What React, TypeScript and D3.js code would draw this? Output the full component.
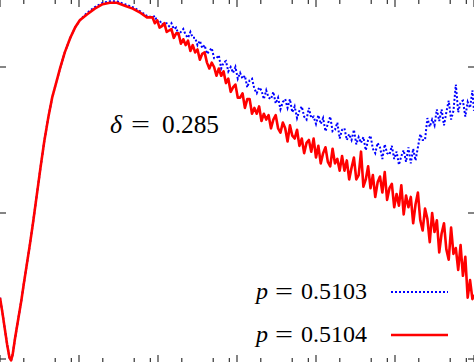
import React from "react";
import * as d3 from "d3";

const W = 474;
const H = 362;

// log10 of the x quantity (shared sampling for both series)
const LOG_T = [
  0, 0.03, 0.06, 0.09, 0.12, 0.14, 0.16, 0.19, 0.23, 0.27,
  0.30, 0.34, 0.38, 0.42, 0.46, 0.51, 0.56, 0.61, 0.66, 0.71,
  0.76, 0.82, 0.89, 0.95, 1.01, 1.10, 1.20, 1.30, 1.39, 1.48,
  1.58, 1.68, 1.78, 1.86,
  1.93, 1.96, 1.99, 2.02, 2.05, 2.08, 2.11, 2.14, 2.17, 2.20,
  2.23, 2.26, 2.29, 2.32, 2.35, 2.38, 2.41, 2.44, 2.47, 2.50,
  2.53, 2.56, 2.59, 2.62, 2.65, 2.68, 2.71, 2.74, 2.77, 2.80,
  2.83, 2.86, 2.89, 2.92, 2.95, 2.98, 3.01, 3.04, 3.07, 3.10,
  3.13, 3.16, 3.19, 3.22, 3.25, 3.28, 3.31, 3.34, 3.37, 3.40,
  3.43, 3.46, 3.49, 3.52, 3.55, 3.58, 3.61, 3.64, 3.67, 3.70,
  3.73, 3.76, 3.79, 3.82, 3.85, 3.88, 3.91, 3.94, 3.97, 4.00,
  4.03, 4.06, 4.09, 4.12, 4.15, 4.18, 4.21, 4.24, 4.27, 4.30,
  4.33, 4.36, 4.39, 4.42, 4.45, 4.48, 4.51, 4.54, 4.57, 4.60,
  4.63, 4.66, 4.69, 4.72, 4.75, 4.78, 4.81, 4.84, 4.87, 4.90,
  4.93, 4.96, 4.99, 5.02, 5.05, 5.08, 5.11, 5.14, 5.17, 5.20,
  5.23, 5.26, 5.29, 5.32, 5.35, 5.38, 5.41, 5.44, 5.47, 5.50,
  5.53, 5.56, 5.59, 5.62, 5.65, 5.68, 5.71, 5.74, 5.77, 5.80,
  5.83, 5.86, 5.89, 5.92, 5.95, 5.98, 6.00,
];

// p = 0.5104 (red, solid)
const RED = [
  0.42, 0.32, 0.21, 0.10, 0.01, -0.01, 0.03, 0.14, 0.27, 0.40,
  0.51, 0.65, 0.79, 0.94, 1.10, 1.30, 1.49, 1.65, 1.79, 1.89,
  1.99, 2.10, 2.20, 2.27, 2.32, 2.36, 2.40, 2.43, 2.44, 2.44,
  2.42, 2.40, 2.37, 2.34,
  2.34, 2.30, 2.32, 2.27, 2.28, 2.30, 2.24, 2.25, 2.26, 2.20,
  2.23, 2.23, 2.16, 2.19, 2.15, 2.18, 2.11, 2.15, 2.10, 2.12,
  2.05, 2.09, 2.10, 2.03, 1.99, 2.03, 2.00, 1.94, 1.99, 1.94,
  1.97, 1.89, 1.92, 1.83, 1.86, 1.88, 1.79, 1.79, 1.82, 1.72,
  1.78, 1.78, 1.68, 1.72, 1.68, 1.73, 1.63, 1.68, 1.64, 1.67,
  1.58, 1.64, 1.67, 1.58, 1.55, 1.62, 1.58, 1.49, 1.60, 1.53,
  1.51, 1.57, 1.46, 1.51, 1.41, 1.48, 1.50, 1.42, 1.51, 1.38,
  1.46, 1.34, 1.41, 1.45, 1.35, 1.32, 1.44, 1.34, 1.37, 1.29,
  1.39, 1.29, 1.36, 1.23, 1.31, 1.38, 1.23, 1.26, 1.42, 1.18,
  1.23, 1.32, 1.17, 1.26, 1.11, 1.21, 1.25, 1.14, 1.28, 1.09,
  1.17, 1.20, 1.04, 1.13, 1.05, 1.19, 0.99, 1.12, 1.04, 1.11,
  0.93, 1.06, 1.14, 0.95, 0.88, 1.03, 0.96, 0.80, 1.00, 0.87,
  0.95, 0.73, 0.86, 0.93, 0.75, 0.68, 0.90, 0.72, 0.76, 0.61,
  0.78, 0.57, 0.70, 0.42, 0.54, 0.41, 0.44,
];

// p = 0.5103 (blue, dotted)
const BLUE = [
  0.42, 0.32, 0.21, 0.10, 0.01, -0.01, 0.03, 0.14, 0.27, 0.40,
  0.51, 0.65, 0.79, 0.94, 1.10, 1.30, 1.49, 1.65, 1.79, 1.89,
  1.99, 2.10, 2.20, 2.27, 2.32, 2.37, 2.41, 2.44, 2.45, 2.45,
  2.43, 2.41, 2.38, 2.35,
  2.34, 2.35, 2.31, 2.32, 2.29, 2.30, 2.30, 2.28, 2.30, 2.26,
  2.27, 2.22, 2.24, 2.26, 2.22, 2.20, 2.24, 2.20, 2.20, 2.15,
  2.18, 2.13, 2.15, 2.09, 2.11, 2.13, 2.06, 2.06, 2.08, 1.99,
  2.03, 2.04, 1.97, 2.00, 1.96, 2.00, 1.92, 1.96, 1.92, 1.94,
  1.86, 1.91, 1.92, 1.85, 1.82, 1.86, 1.84, 1.78, 1.84, 1.79,
  1.78, 1.83, 1.75, 1.79, 1.71, 1.76, 1.78, 1.72, 1.78, 1.69,
  1.73, 1.65, 1.70, 1.73, 1.66, 1.64, 1.72, 1.65, 1.66, 1.61,
  1.67, 1.61, 1.65, 1.56, 1.61, 1.66, 1.56, 1.57, 1.62, 1.51,
  1.57, 1.58, 1.50, 1.54, 1.50, 1.57, 1.47, 1.52, 1.48, 1.52,
  1.43, 1.50, 1.53, 1.44, 1.41, 1.48, 1.45, 1.37, 1.47, 1.41,
  1.40, 1.46, 1.37, 1.42, 1.33, 1.39, 1.43, 1.35, 1.45, 1.34,
  1.44, 1.36, 1.45, 1.54, 1.50, 1.50, 1.65, 1.59, 1.64, 1.60,
  1.71, 1.63, 1.71, 1.60, 1.69, 1.77, 1.64, 1.70, 1.88, 1.69,
  1.76, 1.77, 1.66, 1.76, 1.72, 1.84, 1.70,
];

const X_DECADES = [0, 1, 2, 3, 4, 5, 6];
const X_MINOR_MULT = [2, 5, 8];
const Y_TICKS = [0, 1, 2];

const DELTA_LABEL = "0.285";
const LEGEND = [
  { p: "0.5103", color: "#0000ff", dash: "2 2", width: 2 },
  { p: "0.5104", color: "#ff0000", dash: null as string | null, width: 2.6 },
];

export default function App() {
  const x = d3.scaleLog().domain([1, 1e6]).range([0, W]);
  const y = d3.scaleLinear().domain([0, 2]).range([359, 67]);
  const tVals = LOG_T.map((u) => Math.pow(10, u));

  const line = d3
    .line<number>()
    .x((_, i) => x(tVals[i]))
    .y((d) => y(d));

  const majors = X_DECADES.map((k) => Math.pow(10, k));
  const minors: number[] = [];
  X_DECADES.slice(0, -1).forEach((k) =>
    X_MINOR_MULT.forEach((m) => minors.push(m * Math.pow(10, k)))
  );

  const tickColor = "#333";
  const font = "Liberation Serif, serif";

  return (
    <svg
      width={W}
      height={H}
      style={{ position: "absolute", left: 0, top: 0, background: "#fff" }}
    >
      <rect x={0} y={0} width={W} height={H} fill="#fff" />
      {majors.map((t, i) => (
        <g key={"M" + i} stroke={tickColor} strokeWidth={1.2}>
          <line x1={x(t)} x2={x(t)} y1={0} y2={7} />
          <line x1={x(t)} x2={x(t)} y1={H} y2={H - 7} />
        </g>
      ))}
      {minors.map((t, i) => (
        <g key={"m" + i} stroke={tickColor} strokeWidth={1.2}>
          <line x1={x(t)} x2={x(t)} y1={0} y2={4} />
          <line x1={x(t)} x2={x(t)} y1={H} y2={H - 4} />
        </g>
      ))}
      {Y_TICKS.map((v, i) => (
        <g key={"y" + i} stroke={tickColor} strokeWidth={1.2}>
          <line x1={0} x2={6} y1={y(v)} y2={y(v)} />
          <line x1={W} x2={W - 6} y1={y(v)} y2={y(v)} />
        </g>
      ))}

      <path
        d={line(BLUE) || ""}
        fill="none"
        stroke="#0000ff"
        strokeWidth={2}
        strokeDasharray="2 2"
      />
      <path
        d={line(RED) || ""}
        fill="none"
        stroke="#ff0000"
        strokeWidth={2.6}
        strokeLinejoin="round"
      />

      <g style={{ fontFamily: font }} fill="#000">
        <text x={110} y={133} fontSize={26} fontStyle="italic">δ</text>
        <text x={131} y={133} fontSize={26} textLength={19} lengthAdjust="spacingAndGlyphs">=</text>
        <text x={162} y={133} fontSize={26} textLength={57} lengthAdjust="spacingAndGlyphs">
          {DELTA_LABEL}
        </text>
      </g>

      {LEGEND.map((L, i) => {
        const base = i === 0 ? 299 : 342;
        const ly = i === 0 ? 292 : 335;
        return (
          <g key={"L" + i} style={{ fontFamily: font }} fill="#000">
            <text x={256} y={base} fontSize={24} fontStyle="italic">p</text>
            <text x={275} y={base} fontSize={24} textLength={18} lengthAdjust="spacingAndGlyphs">=</text>
            <text x={301} y={base} fontSize={24} textLength={66} lengthAdjust="spacingAndGlyphs">
              {L.p}
            </text>
            <line
              x1={391}
              x2={448}
              y1={ly}
              y2={ly}
              stroke={L.color}
              strokeWidth={L.width}
              strokeDasharray={L.dash || undefined}
            />
          </g>
        );
      })}
    </svg>
  );
}
